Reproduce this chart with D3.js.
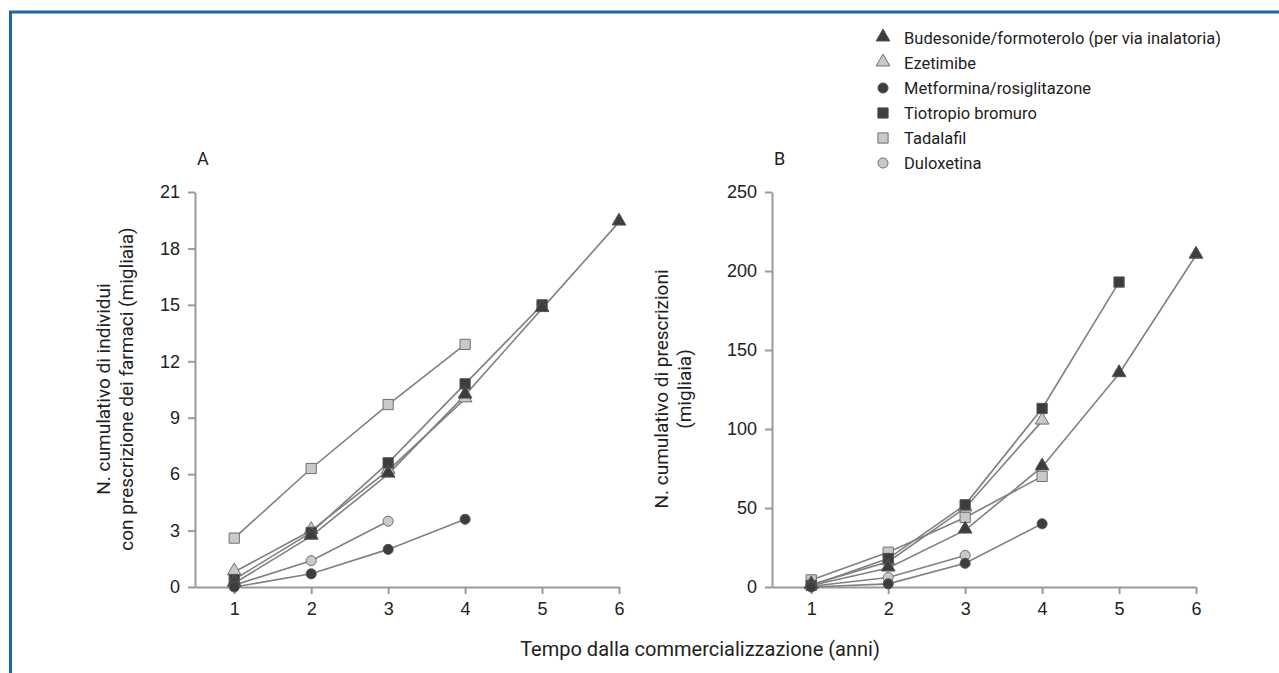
<!DOCTYPE html>
<html>
<head>
<meta charset="utf-8">
<script src="https://cdn.jsdelivr.net/npm/d3@7"></script>
<style>
  body { margin: 0; background: #fff; }
  svg { display: block; font-family: Roboto, "Liberation Sans", sans-serif; }
</style>
</head>
<body>
<script>
"use strict";

// chart data
var years = [1, 2, 3, 4, 5, 6];
var seriesNames = [
  "Budesonide/formoterolo (per via inalatoria)",
  "Ezetimibe",
  "Metformina/rosiglitazone",
  "Tiotropio bromuro",
  "Tadalafil",
  "Duloxetina"
];
var seriesShapes = ["triangle", "triangle", "circle", "square", "square", "circle"];
var seriesDark = [true, false, true, true, false, false];

// Panel A: individui (migliaia)
var budesonideA = [0.2, 2.7, 6.0, 10.2, 14.8, 19.4];
var ezetimibeA = [0.8, 3.0, 6.2, 10.0];
var metforminaA = [0.0, 0.7, 2.0, 3.6];
var tiotropioA = [0.4, 2.9, 6.6, 10.8, 15.0];
var tadalafilA = [2.6, 6.3, 9.7, 12.9];
var duloxetinaA = [0.1, 1.4, 3.5];
var ticksA = [0, 3, 6, 9, 12, 15, 18, 21];

// Panel B: prescrizioni (migliaia)
var budesonideB = [1, 12, 36, 76, 135, 210];
var ezetimibeB = [1.5, 16, 50, 105];
var metforminaB = [0, 2, 15, 40];
var tiotropioB = [1, 18, 52, 113, 193];
var tadalafilB = [4.5, 22, 44, 70];
var duloxetinaB = [0.5, 6, 20];
var ticksB = [0, 50, 100, 150, 200, 250];

var width = 1279, height = 673;

var svg = d3.select("body").append("svg")
  .attr("width", width)
  .attr("height", height);

// blue frame (top and left)
svg.append("path")
  .attr("d", "M10.5,673 V12 H1279")
  .attr("fill", "none")
  .attr("stroke", "#1f64a3")
  .attr("stroke-width", 3);

var lineCol = "#808080";
var axisCol = "#9a9a9a";

function marker(g, shape, dark, x, y) {
  var fill = dark ? "#3d3d3d" : "#c9c9c9";
  var stroke = dark ? "#555" : "#707070";
  var sym = shape === "triangle" ? d3.symbolTriangle : shape === "square" ? d3.symbolSquare : d3.symbolCircle;
  var size = shape === "triangle" ? 82 : shape === "square" ? 105 : 80;
  g.append("path")
    .attr("d", d3.symbol().type(sym).size(size)())
    .attr("transform", "translate(" + x + "," + (shape === "triangle" ? y - 1 : y) + ")")
    .attr("fill", fill)
    .attr("stroke", stroke)
    .attr("stroke-width", 1);
}

function panel(opts) {
  var g = svg.append("g");
  var x = d3.scaleLinear().domain([0.49, 6]).range([opts.left, opts.left + 424]);
  var y = d3.scaleLinear().domain([0, opts.max]).range([587, 192]);

  var xAxis = g.append("g")
    .attr("transform", "translate(0,587)")
    .call(d3.axisBottom(x).tickValues(years).tickFormat(d3.format("d"))
      .tickSize(7).tickSizeOuter(0).tickPadding(8));
  var yAxis = g.append("g")
    .attr("transform", "translate(" + opts.left + ",0)")
    .call(d3.axisLeft(y).tickValues(opts.ticks).tickFormat(d3.format("d"))
      .tickSize(7).tickSizeOuter(0).tickPadding(8));

  [xAxis, yAxis].forEach(function(a) {
    a.select(".domain").attr("stroke", axisCol).attr("stroke-width", 2);
    a.selectAll(".tick line").attr("stroke", axisCol).attr("stroke-width", 2);
    a.selectAll(".tick text").attr("fill", "#222").style("font-size", "18px");
  });

  // panel letter
  g.append("text")
    .attr("x", opts.left + 2)
    .attr("y", 165)
    .attr("fill", "#222")
    .style("font-size", "18px")
    .text(opts.letter);

  // y title
  var t = g.append("text")
    .attr("transform", "translate(" + opts.titleX + ",389) rotate(-90)")
    .attr("text-anchor", "middle")
    .attr("fill", "#222")
    .style("font-size", "19px");
  opts.title.forEach(function(s, i) {
    t.append("tspan").attr("x", 0).attr("dy", i === 0 ? 0 : 23).text(s);
  });

  var line = d3.line().x(function(d, i) { return x(years[i]); }).y(function(d) { return y(d); });

  opts.series.forEach(function(vals) {
    g.append("path")
      .attr("d", line(vals))
      .attr("fill", "none")
      .attr("stroke", lineCol)
      .attr("stroke-width", 1.6);
  });

  // light markers first, dark ones on top
  var order = [4, 5, 1, 3, 0, 2];
  order.forEach(function(k) {
    opts.series[k].forEach(function(v, i) {
      marker(g, seriesShapes[k], seriesDark[k], x(years[i]), y(v));
    });
  });
}

panel({
  left: 195, max: 21, ticks: ticksA, letter: "A", titleX: 110,
  title: ["N. cumulativo di individui", "con prescrizione dei farmaci (migliaia)"],
  series: [budesonideA, ezetimibeA, metforminaA, tiotropioA, tadalafilA, duloxetinaA]
});

panel({
  left: 772, max: 250, ticks: ticksB, letter: "B", titleX: 668,
  title: ["N. cumulativo di prescrizioni", "(migliaia)"],
  series: [budesonideB, ezetimibeB, metforminaB, tiotropioB, tadalafilB, duloxetinaB]
});

// x title shared by both panels
svg.append("text")
  .attr("x", 700)
  .attr("y", 656)
  .attr("text-anchor", "middle")
  .attr("fill", "#222")
  .style("font-size", "20px")
  .text("Tempo dalla commercializzazione (anni)");

// legend
var legend = svg.append("g").attr("transform", "translate(883,38)");
seriesNames.forEach(function(name, k) {
  var row = legend.append("g").attr("transform", "translate(0," + k * 25 + ")");
  marker(row, seriesShapes[k], seriesDark[k], 0, 0);
  row.append("text")
    .attr("x", 21)
    .attr("y", 5.5)
    .attr("fill", "#222")
    .style("font-size", "16.5px")
    .text(name);
});
</script>
</body>
</html>
